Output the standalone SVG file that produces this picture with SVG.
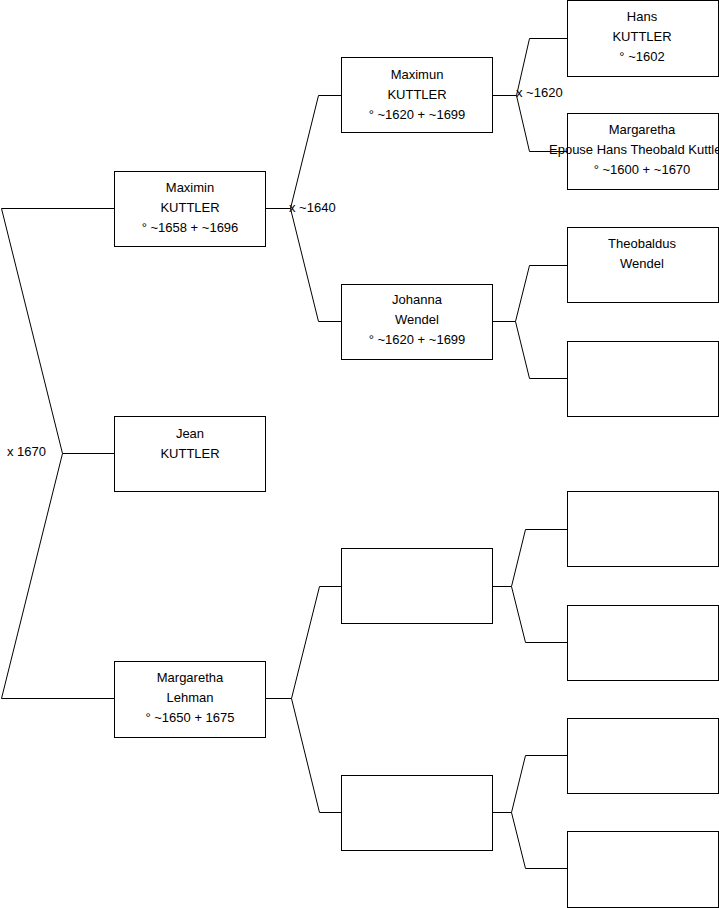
<svg xmlns="http://www.w3.org/2000/svg" width="719" height="908" viewBox="0 0 719 908">
<style>
.box{fill:#fff;stroke:#000;stroke-width:1}
.ln{fill:none;stroke:#000;stroke-width:1}
text{font-family:"Liberation Sans",Arial,sans-serif;font-size:13px;fill:#000}
.c{text-anchor:middle}
</style>
<rect width="719" height="908" fill="#fff"/>
<g id="connectors">
<path class="ln" d="M114.5,208.5 H1.5 L62.5,453.5 L1.5,698.5 H114.5"/>
<path class="ln" d="M62.5,453.5 H114.5"/>
<path class="ln" d="M265.5,208.5 H290.5 L318.5,95.5 H341.5"/>
<path class="ln" d="M290.5,208.5 L318.5,321.5 H341.5"/>
<path class="ln" d="M492.5,95.5 H516.5 L529.5,38.5 H567.5"/>
<path class="ln" d="M516.5,95.5 L529.5,151.5 H567.5"/>
<path class="ln" d="M492.5,321.5 H515.5 L529.5,265.5 H567.5"/>
<path class="ln" d="M515.5,321.5 L529.5,378.5 H567.5"/>
<path class="ln" d="M265.5,698.5 H291.5 L319.5,586.5 H341.5"/>
<path class="ln" d="M291.5,698.5 L319.5,812.5 H341.5"/>
<path class="ln" d="M492.5,586.5 H511.5 L525.5,529.5 H567.5"/>
<path class="ln" d="M511.5,586.5 L525.5,642.5 H567.5"/>
<path class="ln" d="M492.5,812.5 H511.5 L525.5,755.5 H567.5"/>
<path class="ln" d="M511.5,812.5 L525.5,868.5 H567.5"/>
<text x="7" y="456">x 1670</text>
<text x="289" y="212">x ~1640</text>
<text x="516" y="97">x ~1620</text>
</g>
<g id="maximin">
<rect class="box" x="114.5" y="171.5" width="151" height="75"/>
<text class="c" x="190" y="191.5">Maximin</text>
<text class="c" x="190" y="211.5">KUTTLER</text>
<text class="c" x="190" y="231.5">° ~1658 + ~1696</text>
</g>
<g id="jean">
<rect class="box" x="114.5" y="416.5" width="151" height="75"/>
<text class="c" x="190" y="437.5">Jean</text>
<text class="c" x="190" y="457.5">KUTTLER</text>
</g>
<g id="margaretha-lehman">
<rect class="box" x="114.5" y="661.5" width="151" height="76"/>
<text class="c" x="190" y="682">Margaretha</text>
<text class="c" x="190" y="702">Lehman</text>
<text class="c" x="190" y="722">° ~1650 + 1675</text>
</g>
<g id="maximun">
<rect class="box" x="341.5" y="57.5" width="151" height="75"/>
<text class="c" x="417" y="78.5">Maximun</text>
<text class="c" x="417" y="98.5">KUTTLER</text>
<text class="c" x="417" y="118.5">° ~1620 + ~1699</text>
</g>
<g id="johanna">
<rect class="box" x="341.5" y="284.5" width="151" height="75"/>
<text class="c" x="417" y="304">Johanna</text>
<text class="c" x="417" y="324">Wendel</text>
<text class="c" x="417" y="344">° ~1620 + ~1699</text>
</g>
<g id="empty-l2a">
<rect class="box" x="341.5" y="548.5" width="151" height="75"/>
</g>
<g id="empty-l2b">
<rect class="box" x="341.5" y="775.5" width="151" height="75"/>
</g>
<g id="hans">
<rect class="box" x="567.5" y="0.5" width="151" height="76"/>
<text class="c" x="642" y="20.5">Hans</text>
<text class="c" x="642" y="40.5">KUTTLER</text>
<text class="c" x="642" y="60.5">° ~1602</text>
</g>
<g id="margaretha">
<rect class="box" x="567.5" y="113.5" width="151" height="76"/>
<text class="c" x="642" y="134">Margaretha</text>
<text x="549" y="154">Epouse Hans Theobald Kuttler</text>
<text class="c" x="642" y="174">° ~1600 + ~1670</text>
</g>
<g id="theobaldus">
<rect class="box" x="567.5" y="227.5" width="151" height="75"/>
<text class="c" x="642" y="248">Theobaldus</text>
<text class="c" x="642" y="268">Wendel</text>
</g>
<g id="empty-l3a"><rect class="box" x="567.5" y="341.5" width="151" height="75"/></g>
<g id="empty-l3b"><rect class="box" x="567.5" y="491.5" width="151" height="75"/></g>
<g id="empty-l3c"><rect class="box" x="567.5" y="605.5" width="151" height="75"/></g>
<g id="empty-l3d"><rect class="box" x="567.5" y="718.5" width="151" height="75"/></g>
<g id="empty-l3e"><rect class="box" x="567.5" y="831.5" width="151" height="76"/></g>
</svg>
